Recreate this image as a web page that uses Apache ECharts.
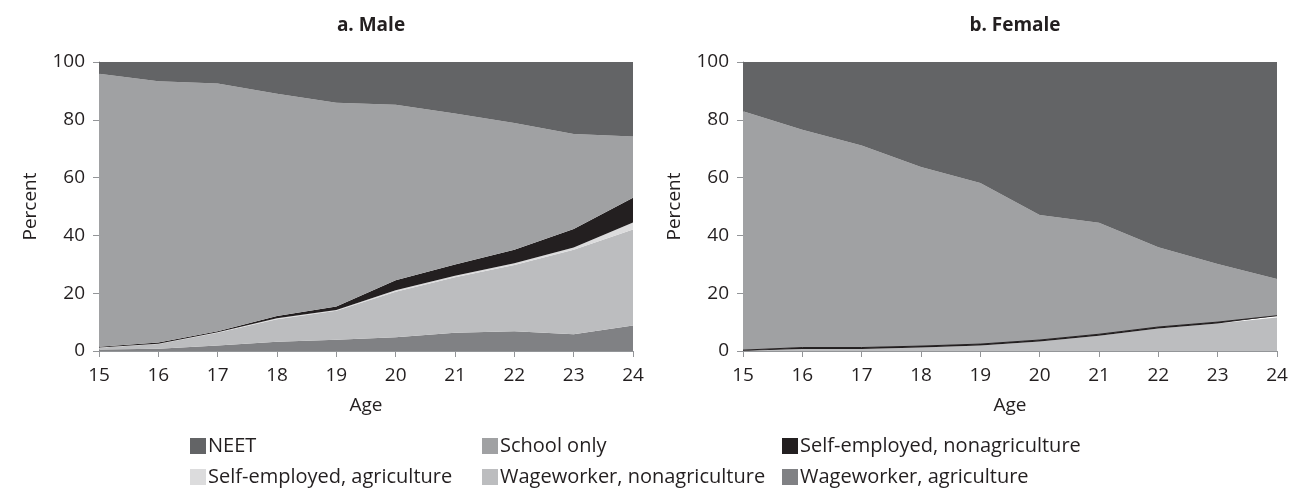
<!DOCTYPE html>
<html>
<head>
<meta charset="utf-8">
<script src="https://cdn.jsdelivr.net/npm/echarts@6/dist/echarts.min.js"></script>
<style>
html,body{margin:0;padding:0;background:#fff;}
#c{width:1293px;height:492px;}
</style>
</head>
<body>
<div id="c"></div>
<script>
const ages = ['15','16','17','18','19','20','21','22','23','24'];
const yTicks = [0, 20, 40, 60, 80, 100];
const seriesNames = ['Wageworker, agriculture','Wageworker, nonagriculture','Self-employed, agriculture','Self-employed, nonagriculture','School only','NEET'];
const seriesColors = ['#808184','#bcbdbf','#dcdcdd','#231f20','#a0a1a3','#636466'];

// Male (percent, stacked from bottom)
const maleWageAgri     = [0.5, 0.8, 1.9, 3.2, 3.9, 4.8, 6.3, 6.8, 5.8, 8.8];
const maleWageNonagri  = [0.6, 1.6, 4.4, 7.8, 10.0, 15.7, 19.2, 23.0, 29.2, 33.2];
const maleSelfAgri     = [0.1, 0.1, 0.2, 0.3, 0.3, 0.5, 0.5, 0.6, 0.8, 2.5];
const maleSelfNonagri  = [0.3, 0.4, 0.3, 0.8, 1.2, 3.5, 3.9, 4.6, 6.4, 8.5];
const maleSchool       = [94.4, 90.4, 85.8, 76.9, 70.5, 60.7, 52.3, 43.9, 32.9, 21.2];
const maleNeet         = [4.1, 6.7, 7.4, 11.0, 14.1, 14.8, 17.8, 21.1, 24.9, 25.8];

// Female
const femaleWageAgri    = [0, 0, 0, 0, 0, 0, 0, 0, 0, 0];
const femaleWageNonagri = [0.1, 0.7, 0.7, 1.2, 1.9, 3.3, 5.3, 7.8, 9.5, 11.6];
const femaleSelfAgri    = [0, 0, 0, 0, 0, 0, 0, 0, 0, 0];
const femaleSelfNonagri = [0.2, 0.5, 0.5, 0.5, 0.5, 0.5, 0.5, 0.5, 0.5, 0.6];
const femaleSchool      = [82.7, 75.4, 69.9, 62.0, 55.7, 43.3, 38.6, 27.6, 20.1, 12.7];
const femaleNeet        = [17.0, 23.4, 28.9, 36.3, 41.9, 52.9, 55.6, 64.1, 69.9, 75.1];

const maleData = [maleWageAgri, maleWageNonagri, maleSelfAgri, maleSelfNonagri, maleSchool, maleNeet];
const femaleData = [femaleWageAgri, femaleWageNonagri, femaleSelfAgri, femaleSelfNonagri, femaleSchool, femaleNeet];

const FONT = 'Open Sans';
const textColor = '#231f20';
const axisColor = '#939598';

function xAxis(idx){
  return {
    type:'category', gridIndex: idx, data: ages, boundaryGap:false,
    name:'Age', nameLocation:'middle', nameGap:45,
    nameTextStyle:{fontFamily:FONT,fontSize:19,color:textColor},
    axisLine:{lineStyle:{color:axisColor,width:1}},
    axisTick:{show:true,length:6,lineStyle:{color:axisColor},alignWithLabel:true},
    axisLabel:{fontFamily:FONT,fontSize:19,color:textColor,margin:15,interval:0},
    splitLine:{show:false}
  };
}
function yAxis(idx, gap){
  return {
    type:'value', gridIndex: idx, min:0, max:100, interval:20,
    name:'Percent', nameLocation:'middle', nameGap:gap, nameRotate:90,
    nameTextStyle:{fontFamily:FONT,fontSize:19,color:textColor},
    axisLine:{show:true,lineStyle:{color:axisColor,width:1}},
    axisTick:{show:true,length:6,lineStyle:{color:axisColor}},
    axisLabel:{fontFamily:FONT,fontSize:19,color:textColor,margin:14,
      formatter: v => yTicks.includes(v) ? String(v) : ''},
    splitLine:{show:false}
  };
}

const series = [];
[maleData, femaleData].forEach((set, gi) => {
  set.forEach((vals, i) => {
    const isLine = gi === 1 && i === 3;
    series.push({
      name: seriesNames[i], type:'line', xAxisIndex: gi, yAxisIndex: gi,
      stack: gi === 0 ? 'male' : 'female',
      data: vals, symbol:'none', showSymbol:false,
      lineStyle: isLine ? {width:1, color: seriesColors[i]} : {width:0},
      areaStyle:{color: seriesColors[i], opacity:1},
      itemStyle:{color: seriesColors[i]}, emphasis:{disabled:true}, z: 2
    });
  });
});

function legend(left, names){
  return {
    left: left, top: 436, orient:'vertical', itemGap: 11,
    itemWidth: 16, itemHeight: 16, icon:'rect', padding:0,
    selectedMode:false,
    textStyle:{fontFamily:FONT,fontSize:20,color:textColor,padding:[0,0,0,-3]},
    data: names
  };
}

const chart = echarts.init(document.getElementById('c'), null, {renderer:'canvas'});
chart.setOption({
  backgroundColor:'#fff',
  animation:false,
  title:[
    {text:'a. Male', left:366, top:11, textAlign:'center',
     textStyle:{fontFamily:FONT,fontSize:19,fontWeight:'bold',color:textColor}},
    {text:'b. Female', left:1010, top:11, textAlign:'center',
     textStyle:{fontFamily:FONT,fontSize:19,fontWeight:'bold',color:textColor}}
  ],
  grid:[
    {left:99, width:534, top:62, height:289},
    {left:743, width:534, top:62, height:289}
  ],
  xAxis:[xAxis(0), xAxis(1)],
  yAxis:[yAxis(0, 59), yAxis(1, 59)],
  legend:[
    legend(190, ['NEET','Self-employed, agriculture']),
    legend(482, ['School only','Wageworker, nonagriculture']),
    legend(782, ['Self-employed, nonagriculture','Wageworker, agriculture'])
  ],
  series: series
});
</script>
</body>
</html>
